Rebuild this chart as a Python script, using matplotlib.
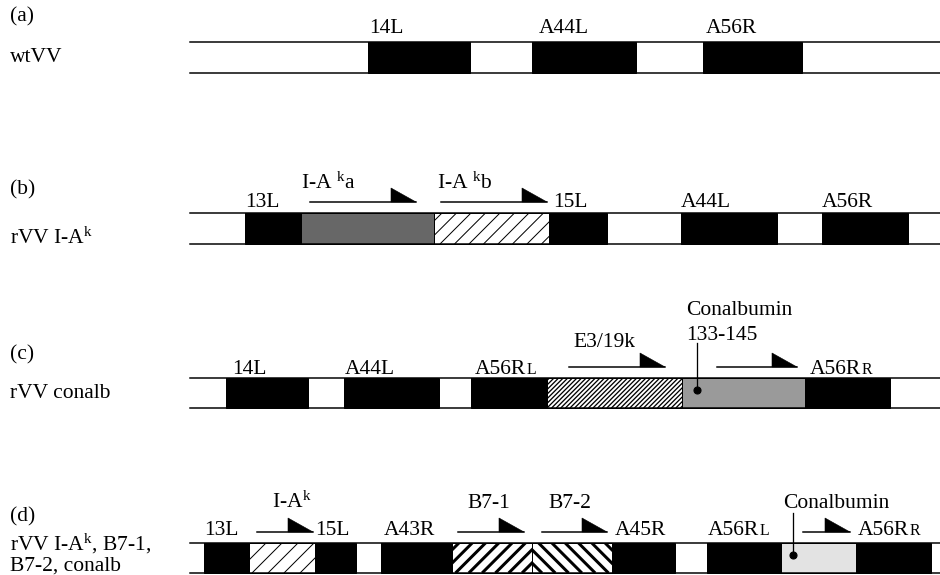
import numpy as np
import matplotlib.pyplot as plt
from matplotlib.patches import Rectangle, Polygon

plt.rcParams['font.family'] = ['Liberation Serif', 'DejaVu Serif']
plt.rcParams['mathtext.fontset'] = 'custom'
plt.rcParams['mathtext.rm'] = 'Liberation Serif'
plt.rcParams['mathtext.it'] = 'Liberation Serif:italic'

DPI = 80
PT = 72 / DPI          # one pixel in points
FS = 21.5 * PT         # ~21.5 px em

# ---- row (a) wtVV
a_top, a_bot = 42, 73
a_x0 = [368, 532, 703]
a_x1 = [470, 636, 802]
a_kind = ['black', 'black', 'black']
a_names = ['14L', 'A44L', 'A56R']
a_name_x = [369, 539, 706]

# ---- row (b) rVV I-Ak
b_top, b_bot = 213, 244
b_x0 = [245, 301, 434, 549, 681, 822]
b_x1 = [301, 434, 549, 607, 777, 908]
b_kind = ['black', 'dark', 'hatch', 'black', 'black', 'black']
b_names = ['13L', '15L', 'A44L', 'A56R']
b_name_x = [245, 553, 681, 822]
b_genes = [r'I-A $^{\mathrm{k}}$a', r'I-A $^{\mathrm{k}}$b']
b_gene_x = [301, 437]
b_arrows = [(310, 416), (441, 547)]

# ---- row (c) rVV conalb
c_top, c_bot = 378, 408
c_x0 = [226, 344, 471, 547, 682, 805]
c_x1 = [308, 439, 547, 682, 805, 890]
c_kind = ['black', 'black', 'black', 'dense', 'mid', 'black']
c_names = ['14L', 'A44L', ('A56R', 'L'), ('A56R', 'R')]
c_name_x = [232, 345, 475, 810]
c_genes = ['E3/19k']
c_gene_x = [573]
c_arrows = [(569, 665), (717, 797)]
c_pin = 697

# ---- row (d) rVV I-Ak, B7-1, B7-2, conalb
d_top, d_bot = 543, 573
d_x0 = [204, 249, 315, 381, 452, 532, 612, 707, 781, 856]
d_x1 = [249, 315, 356, 452, 532, 612, 675, 781, 856, 931]
d_kind = ['black', 'hatch_d', 'black', 'black', 'b71', 'b72', 'black', 'black', 'light', 'black']
d_names = ['13L', '15L', 'A43R', 'A45R', ('A56R', 'L'), ('A56R', 'R')]
d_name_x = [204, 315, 384, 615, 708, 858]
d_genes = [r'I-A$^{\mathrm{k}}$', 'B7-1', 'B7-2', 'Conalbumin']
d_gene_x = [272, 467, 548, 783]
d_arrows = [(257, 313), (458, 524), (542, 607), (803, 850)]
d_pin = 793

# fill colour, hatch direction, line spacing (px), line width (px), phase anchor
styles = {
    'black': dict(fc='black'),
    'dark': dict(fc='#676767'),
    'mid': dict(fc='#9a9a9a'),
    'light': dict(fc='#e3e3e3'),
    'hatch': dict(fc='white', dir=1, sp=14.5, lw=1.0, anchor=440),
    'hatch_d': dict(fc='white', dir=1, sp=16.0, lw=1.0, anchor=252),
    'dense': dict(fc='white', dir=1, sp=4.6, lw=1.3, anchor=547),
    'b71': dict(fc='white', dir=1, sp=13.3, lw=3.0, anchor=522),
    'b72': dict(fc='white', dir=-1, sp=13.3, lw=3.0, anchor=542),
}

fig = plt.figure(figsize=(940 / DPI, 575 / DPI), dpi=DPI)
ax = fig.add_axes([0, 0, 1, 1])
ax.set_xlim(0, 940)
ax.set_ylim(575, 0)
ax.axis('off')


def label(x, y, s):
    if isinstance(s, tuple):
        t = ax.text(x, y, s[0], fontsize=FS, va='baseline')
        ax.annotate(s[1], xy=(1, 0), xycoords=t, xytext=(0.5, 1.0),
                    textcoords='offset points', fontsize=FS * 0.74, va='bottom')
    else:
        ax.text(x, y, s, fontsize=FS, va='baseline')


def bar(top, bot, x0, x1, kind):
    ax.plot([190, 940], [top, top], color='black', lw=1.5 * PT)
    ax.plot([190, 940], [bot, bot], color='black', lw=1.5 * PT)
    h = bot - top
    for s, e, k in zip(x0, x1, kind):
        st = styles[k]
        p = Rectangle((s, top), e - s, h, facecolor=st['fc'], edgecolor='none', zorder=1)
        ax.add_patch(p)
        if 'sp' in st:
            d, sp = st['dir'], st['sp']
            kmin = int(np.floor((s - h - st['anchor']) / sp)) - 1
            kmax = int(np.ceil((e + h - st['anchor']) / sp)) + 1
            for kk in range(kmin, kmax + 1):
                xb = st['anchor'] + kk * sp
                ln, = ax.plot([xb, xb + d * h], [bot, top], color='black',
                              lw=st['lw'] * PT, solid_capstyle='butt', zorder=2)
                ln.set_clip_path(p)
        ax.add_patch(Rectangle((s, top), e - s, h, facecolor='none',
                               edgecolor='black', lw=1.0 * PT, zorder=3))


def arrow(x0, x1, y):
    ax.plot([x0, x1], [y, y], color='black', lw=1.5 * PT)
    ax.add_patch(Polygon([(x1 - 25, y), (x1 - 25, y - 14), (x1, y)],
                         closed=True, fc='black', ec='black', lw=0.5))


def pin(x, y0, y1):
    ax.plot([x, x], [y0, y1], color='black', lw=1.3 * PT, zorder=4)
    ax.plot(x, y1, 'o', color='black', ms=7 * PT, zorder=4)


# left labels
left = [(17, '(a)'), (57, 'wtVV'), (190, '(b)'), (238, r'rVV I-A$^{\mathrm{k}}$'),
        (355, '(c)'), (393, 'rVV conalb'), (517, '(d)'),
        (544, r'rVV I-A$^{\mathrm{k}}$, B7-1,'), (566, 'B7-2, conalb')]
for y, s in left:
    ax.text(10, y, s, fontsize=FS, va='center')

# (a)
bar(a_top, a_bot, a_x0, a_x1, a_kind)
for x, s in zip(a_name_x, a_names):
    label(x, 33, s)

# (b)
bar(b_top, b_bot, b_x0, b_x1, b_kind)
for x, s in zip(b_name_x, b_names):
    label(x, 207, s)
for x, s in zip(b_gene_x, b_genes):
    label(x, 189, s)
for s, e in b_arrows:
    arrow(s, e, 202)

# (c)
bar(c_top, c_bot, c_x0, c_x1, c_kind)
for x, s in zip(c_name_x, c_names):
    label(x, 374, s)
for x, s in zip(c_gene_x, c_genes):
    label(x, 347, s)
label(686, 315, 'Conalbumin')
label(686, 340, '133-145')
for s, e in c_arrows:
    arrow(s, e, 367)
pin(c_pin, 343, 390)

# (d)
bar(d_top, d_bot, d_x0, d_x1, d_kind)
for x, s in zip(d_name_x, d_names):
    label(x, 535, s)
for x, s in zip(d_gene_x, d_genes):
    label(x, 508, s)
for s, e in d_arrows:
    arrow(s, e, 532)
pin(d_pin, 513, 555)

fig.savefig('out.png', dpi=DPI)
